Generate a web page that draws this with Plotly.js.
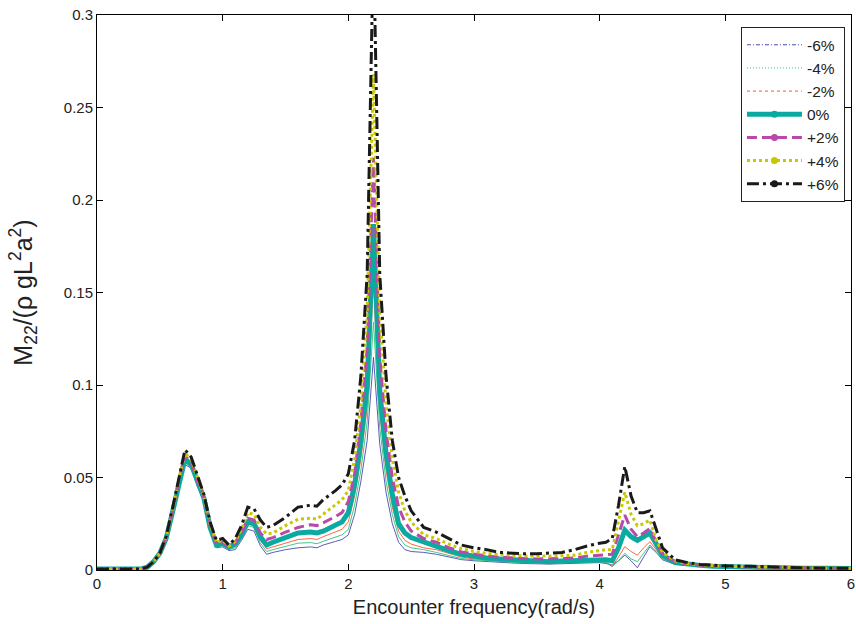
<!DOCTYPE html>
<html>
<head>
<meta charset="utf-8">
<script src="https://cdn.plot.ly/plotly-3.0.1.min.js"></script>
<style>html,body{margin:0;padding:0;background:#fff;}#chart{width:856px;height:624px;}</style>
</head>
<body>
<div id="chart"></div>
<script>
// Encounter frequency (rad/s)
const freq = [0, 0.1, 0.2, 0.3, 0.35, 0.4, 0.45, 0.5,
  0.55, 0.6, 0.65, 0.7, 0.75, 0.8, 0.85, 0.9, 0.95, 1.0, 1.05,
  1.1, 1.15, 1.2, 1.25, 1.3, 1.35, 1.4, 1.5, 1.6, 1.7, 1.75, 1.8, 1.9, 1.95,
  2.0, 2.05, 2.1, 2.15, 2.2, 2.25, 2.3, 2.35, 2.4, 2.45, 2.5,
  2.6, 2.7, 2.8, 2.9, 3.0, 3.1, 3.2, 3.3, 3.4, 3.5, 3.6, 3.7, 3.8, 3.9,
  4.0, 4.05, 4.1, 4.15, 4.2, 4.25, 4.3, 4.35, 4.4, 4.45, 4.5,
  4.6, 4.7, 4.8, 4.9, 5.0, 5.2, 5.4, 5.6, 5.8, 6.0];

const m22_m6 = [0.0005,0.0005,0.0005,0.0005,0.0006,0.0015,0.0045,0.009,
  0.017,0.0295,0.045,0.057,0.055,0.045,0.037,0.021,0.012,0.0125,0.0105,
  0.011,0.016,0.022,0.021,0.013,0.0085,0.0095,0.011,0.012,0.0125,0.012,0.0135,0.0155,0.0165,
  0.019,0.030,0.048,0.070,0.115,0.068,0.042,0.025,0.015,0.011,0.010,
  0.0095,0.0085,0.007,0.0056,0.005,0.0045,0.0041,0.0038,0.0035,0.0033,0.0032,0.0034,0.0035,0.0038,
  0.004,0.0035,0.0027,0.005,0.008,0.005,0.0012,0.007,0.0126,0.0095,0.0055,
  0.003,0.0024,0.002,0.0017,0.0015,0.0012,0.001,0.0009,0.0008,0.0007];

const m22_m4 = [0.0005,0.0005,0.0005,0.0005,0.0006,0.0015,0.0045,0.009,
  0.017,0.030,0.0455,0.058,0.0555,0.0455,0.0375,0.0215,0.0125,0.013,0.011,
  0.012,0.017,0.024,0.023,0.0145,0.010,0.011,0.0128,0.0145,0.0148,0.0142,0.0155,0.018,0.019,
  0.022,0.035,0.054,0.080,0.134,0.077,0.048,0.030,0.018,0.0135,0.012,
  0.011,0.0095,0.0078,0.0062,0.0055,0.005,0.0046,0.0042,0.004,0.0038,0.0037,0.0039,0.0042,0.0045,
  0.0045,0.004,0.0018,0.005,0.009,0.006,0.0045,0.009,0.0135,0.010,0.006,
  0.0033,0.0026,0.0022,0.0019,0.0016,0.0013,0.0011,0.001,0.0009,0.0008];

const m22_m2 = [0.0005,0.0005,0.0005,0.0005,0.0006,0.0015,0.0045,0.009,
  0.017,0.0305,0.046,0.059,0.056,0.046,0.038,0.022,0.013,0.0138,0.0115,
  0.0128,0.018,0.025,0.024,0.016,0.0115,0.0125,0.0145,0.0165,0.017,0.0165,0.018,0.0205,0.022,
  0.026,0.040,0.060,0.088,0.155,0.085,0.054,0.034,0.021,0.016,0.014,
  0.012,0.011,0.0088,0.007,0.006,0.0055,0.005,0.0048,0.0045,0.0042,0.004,0.0042,0.0045,0.005,
  0.005,0.0045,0.002,0.007,0.0126,0.010,0.008,0.012,0.0153,0.011,0.0065,
  0.0035,0.0028,0.0023,0.002,0.0017,0.0014,0.0012,0.001,0.0009,0.0008];

const m22_0 = [0.0005,0.0005,0.0005,0.0005,0.0006,0.0015,0.0045,0.009,
  0.017,0.031,0.047,0.060,0.057,0.047,0.039,0.023,0.0135,0.0145,0.0125,
  0.014,0.019,0.026,0.025,0.018,0.0135,0.015,0.0175,0.020,0.0205,0.020,0.021,0.0245,0.026,
  0.031,0.046,0.070,0.100,0.187,0.097,0.063,0.041,0.025,0.020,0.0175,
  0.015,0.013,0.0105,0.0085,0.0072,0.0065,0.006,0.0055,0.005,0.0048,0.0045,0.0048,0.005,0.0055,
  0.006,0.0055,0.005,0.012,0.0215,0.018,0.016,0.018,0.020,0.014,0.008,
  0.004,0.003,0.0025,0.002,0.0018,0.0015,0.0012,0.001,0.001,0.0008];

const m22_p2 = [0.0005,0.0005,0.0005,0.0005,0.0006,0.0015,0.0045,0.009,
  0.017,0.0315,0.048,0.062,0.058,0.048,0.0395,0.024,0.014,0.015,0.0125,
  0.0148,0.020,0.028,0.027,0.020,0.0165,0.0175,0.0205,0.023,0.0245,0.024,0.0255,0.029,0.031,
  0.037,0.052,0.080,0.120,0.223,0.115,0.075,0.050,0.034,0.026,0.021,
  0.017,0.015,0.012,0.0098,0.0085,0.0075,0.007,0.0065,0.0062,0.006,0.006,0.0062,0.0065,0.0075,
  0.008,0.0082,0.0085,0.019,0.0297,0.022,0.018,0.020,0.0225,0.015,0.0085,
  0.0045,0.0032,0.0026,0.0022,0.0019,0.0016,0.0013,0.0011,0.001,0.0008];

const m22_p4 = [0.0005,0.0005,0.0005,0.0005,0.0006,0.0015,0.0045,0.009,
  0.0175,0.032,0.049,0.063,0.060,0.050,0.040,0.025,0.015,0.016,0.013,
  0.0155,0.022,0.031,0.030,0.023,0.0195,0.020,0.024,0.0275,0.028,0.0275,0.030,0.035,0.038,
  0.043,0.060,0.090,0.140,0.268,0.140,0.090,0.060,0.042,0.032,0.026,
  0.019,0.017,0.014,0.0115,0.010,0.009,0.0083,0.008,0.0076,0.0075,0.0075,0.0077,0.008,0.0095,
  0.0105,0.011,0.011,0.027,0.042,0.030,0.024,0.025,0.027,0.016,0.0095,
  0.005,0.0035,0.0028,0.0023,0.002,0.0018,0.0014,0.0011,0.001,0.0009];

const m22_p6 = [0.0005,0.0005,0.0005,0.0005,0.0006,0.0015,0.0045,0.009,
  0.018,0.033,0.050,0.065,0.061,0.051,0.041,0.026,0.016,0.017,0.0135,
  0.017,0.024,0.034,0.033,0.027,0.023,0.024,0.0285,0.034,0.035,0.0345,0.038,0.043,0.046,
  0.052,0.070,0.105,0.160,0.340,0.160,0.105,0.070,0.050,0.040,0.032,
  0.023,0.0205,0.017,0.0135,0.012,0.011,0.0095,0.009,0.0088,0.0088,0.009,0.0095,0.011,0.013,
  0.0145,0.015,0.017,0.035,0.056,0.040,0.031,0.031,0.032,0.022,0.012,
  0.0055,0.004,0.003,0.0025,0.0022,0.002,0.0015,0.0012,0.001,0.001];

const seriesNames = ['-6%', '-4%', '-2%', '0%', '+2%', '+4%', '+6%'];
const seriesValues = [m22_m6, m22_m4, m22_m2, m22_0, m22_p2, m22_p4, m22_p6];

const FONT = 'Liberation Sans, Arial, Helvetica, sans-serif';
const styles = [
  {color: '#4a4aae', width: 0.9, dash: 'solid', legDash: '4px,2px,1px,2px', marker: false, legW: 1},
  {color: '#2ec27a', width: 0.9, dash: 'solid', legDash: '1px,2px', marker: false, legW: 1},
  {color: '#ff5533', width: 0.9, dash: 'solid', legDash: '3px,3px', marker: false, legW: 1},
  {color: '#0aaaa0', width: 5, dash: 'solid', legDash: 'solid', marker: true, legW: 5},
  {color: '#b84aa8', width: 3, dash: '10px,5px', legDash: '10px,5px', marker: true, legW: 3},
  {color: '#c8c800', width: 3, dash: '3px,3px', legDash: '3px,3px', marker: true, legW: 3},
  {color: '#1a1a1a', width: 3, dash: '12px,4px,3px,4px', legDash: '12px,4px,3px,4px', marker: true, legW: 3}
];

const traces = [];
seriesValues.forEach((vals, i) => {
  traces.push({
    x: freq, y: vals, type: 'scatter', mode: 'lines',
    name: seriesNames[i], showlegend: false, hoverinfo: 'skip',
    line: {color: styles[i].color, width: styles[i].width, dash: styles[i].dash}
  });
});
seriesNames.forEach((nm, i) => {
  traces.push({
    x: [null], y: [null], type: 'scatter',
    mode: styles[i].marker ? 'lines+markers' : 'lines',
    name: nm, showlegend: true,
    line: {color: styles[i].color, width: styles[i].legW, dash: styles[i].legDash},
    marker: {color: styles[i].color, size: 7}
  });
});

const axisCommon = {
  showline: true, linecolor: '#000', linewidth: 1, mirror: 'ticks',
  ticks: 'inside', ticklen: 6, tickcolor: '#000', tickwidth: 1,
  showgrid: false, zeroline: false,
  tickfont: {family: FONT, size: 15, color: '#222'}
};

const layout = {
  width: 856, height: 624,
  margin: {l: 97, r: 5, t: 15, b: 54},
  paper_bgcolor: '#fff', plot_bgcolor: '#fff',
  font: {family: FONT, color: '#222'},
  xaxis: Object.assign({}, axisCommon, {
    range: [0, 6], dtick: 1, tick0: 0,
    title: {text: 'Encounter frequency(rad/s)', font: {family: FONT, size: 20, color: '#222'}, standoff: 8}
  }),
  yaxis: Object.assign({}, axisCommon, {
    range: [0, 0.3], dtick: 0.05, tick0: 0,
    title: {text: 'M<sub>22</sub>/(ρ gL<sup>2</sup>a<sup>2</sup>)', font: {family: FONT, size: 25, color: '#222'}, standoff: 24}
  }),
  legend: {
    x: 0.992, xanchor: 'right', y: 0.978, yanchor: 'top',
    bgcolor: '#fff', bordercolor: '#222', borderwidth: 1,
    font: {family: FONT, size: 15.5, color: '#222'},
    itemwidth: 55, tracegroupgap: 0
  },
  showlegend: true
};

Plotly.newPlot('chart', traces, layout, {displayModeBar: false, staticPlot: true});
</script>
</body>
</html>
